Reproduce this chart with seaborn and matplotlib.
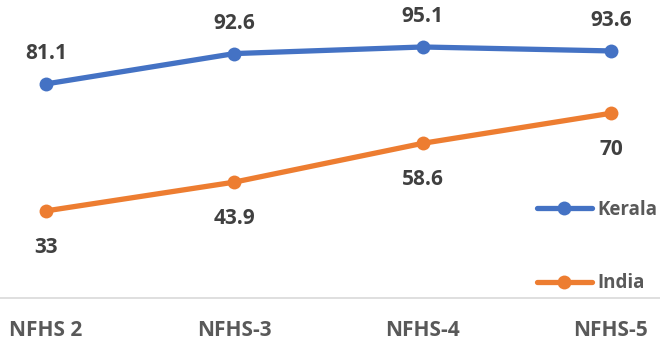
import matplotlib
matplotlib.use("Agg")
import matplotlib.pyplot as plt
import seaborn as sns
import pandas as pd
from matplotlib.lines import Line2D

rounds = ["NFHS 2", "NFHS-3", "NFHS-4", "NFHS-5"]
kerala = [81.1, 92.6, 95.1, 93.6]
india = [33, 43.9, 58.6, 70]
kerala_labels = ["81.1", "92.6", "95.1", "93.6"]
india_labels = ["33", "43.9", "58.6", "70"]

sns.set_theme(style="white")
plt.rcParams['font.family'] = ['Open Sans', 'DejaVu Sans']

df = pd.DataFrame({
    "x": list(range(4)) * 2,
    "value": kerala + india,
    "series": ["Kerala"] * 4 + ["India"] * 4,
})

fig = plt.figure(figsize=(6.6, 3.44), dpi=100)
ax = fig.add_axes([0, 46 / 344, 1, 298 / 344])
palette = {"Kerala": "#4472C4", "India": "#ED7D31"}
sns.lineplot(data=df, x="x", y="value", hue="series", palette=palette,
             marker="o", markersize=10, markeredgewidth=0, linewidth=3.8,
             ax=ax, legend=False)

FS = 15
ax.set_xlim(-46 / 188.33, 3 + 49 / 188.33)
ax.set_ylim(0, 112.9)
ax.set_yticks([])
ax.set_xticks(range(4))
ax.set_xticklabels(rounds, fontsize=FS, fontweight="bold", color="#595959")
ax.tick_params(axis="x", length=0, pad=16)
ax.set_xlabel("")
ax.set_ylabel("")
for s in ["top", "left", "right"]:
    ax.spines[s].set_visible(False)
ax.spines["bottom"].set_color("#D9D9D9")
ax.spines["bottom"].set_linewidth(1.2)

for i, (v, t) in enumerate(zip(kerala, kerala_labels)):
    ax.annotate(t, (i, v), xytext=(0, 22), textcoords="offset points",
                ha="center", va="center", fontsize=FS, fontweight="bold", color="#404040")
for i, (v, t) in enumerate(zip(india, india_labels)):
    ax.annotate(t, (i, v), xytext=(0, -26), textcoords="offset points",
                ha="center", va="center", fontsize=FS, fontweight="bold", color="#404040")

handles = [Line2D([], [], color=palette[k], marker="o", markersize=10,
                  markeredgewidth=0, linewidth=3.8) for k in ["Kerala", "India"]]
leg = fig.legend(handles, ["Kerala", "India"], loc="upper left",
                 bbox_to_anchor=(537 / 660, 1 - 200 / 344), frameon=False,
                 handlelength=2.93, handletextpad=0.3, labelspacing=2.85,
                 prop={"size": 13.5, "weight": "bold"}, borderpad=0,
                 borderaxespad=0)
for t in leg.get_texts():
    t.set_color("#595959")

fig.savefig("out.png", dpi=100)
